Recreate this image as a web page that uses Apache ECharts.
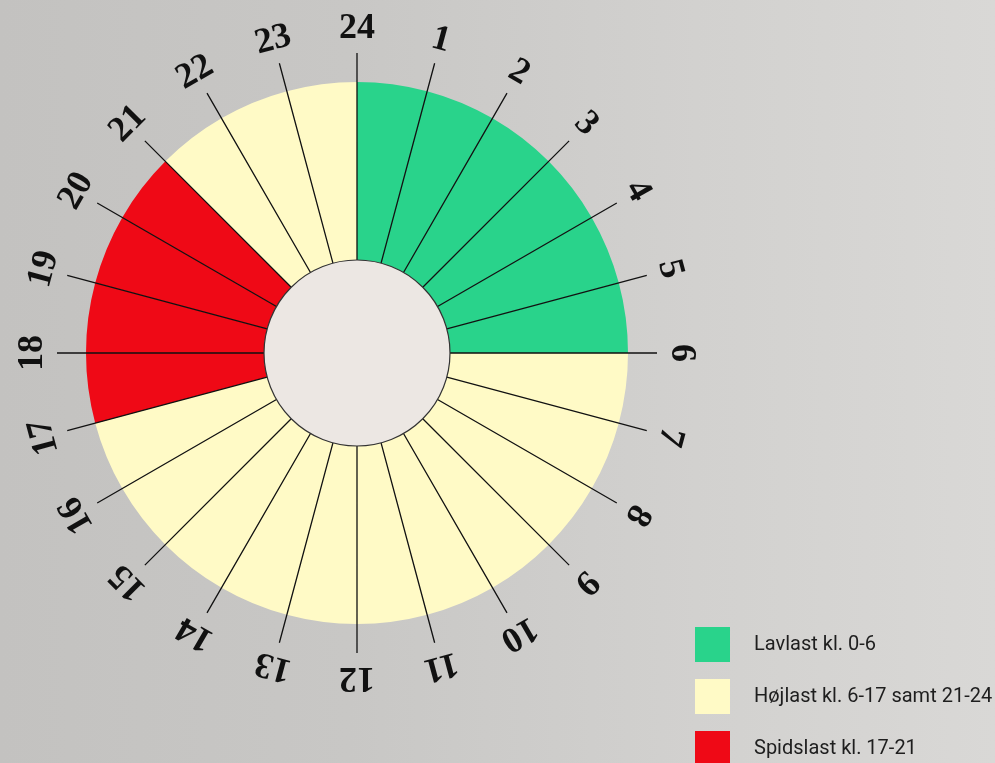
<!DOCTYPE html>
<html>
<head>
<meta charset="utf-8">
<script src="https://cdn.jsdelivr.net/npm/echarts@6/dist/echarts.min.js"></script>
<style>
  html, body { margin:0; padding:0; width:995px; height:763px; overflow:hidden; }
  body { background: linear-gradient(90deg, #c3c2c0 0%, #c8c7c5 35%, #d2d1cf 70%, #d9d8d6 100%); }
  #chart { width:995px; height:763px; }
</style>
</head>
<body>
<div id="chart"></div>
<script>
// Hour labels at slice boundaries, clockwise from top
const hourLabels = ['24','1','2','3','4','5','6','7','8','9','10','11','12','13','14','15','16','17','18','19','20','21','22','23'];
// One slice per hour (hour k -> k+1), equal size
const sliceValues = [1,1,1,1,1,1,1,1,1,1,1,1,1,1,1,1,1,1,1,1,1,1,1,1];
// Period of each hour slice: 0 = Lavlast, 1 = Højlast, 2 = Spidslast
const slicePeriod = [0,0,0,0,0,0, 1,1,1,1,1,1,1,1,1,1,1, 2,2,2,2, 1,1,1];
const periodNames = ['Lavlast kl. 0-6', 'Højlast kl. 6-17 samt 21-24', 'Spidslast kl. 17-21'];
const periodColors = ['#29d38b', '#fffac6', '#ef0916'];

const CX = 357, CY = 353;

const ringData = sliceValues.map((v, i) => ({
  value: v,
  name: periodNames[slicePeriod[i]],
  itemStyle: { color: periodColors[slicePeriod[i]] }
}));

const labelData = hourLabels.map((h, i) => ({
  value: sliceValues[i],
  name: h,
  label: { rotate: -15 * i }
}));

const chart = echarts.init(document.getElementById('chart'), null, { renderer: 'canvas' });
chart.setOption({
  backgroundColor: 'transparent',
  animation: false,
  legend: {
    orient: 'vertical',
    left: 695,
    top: 627,
    height: 160,
    padding: 0,
    itemWidth: 35,
    itemHeight: 35,
    itemGap: 17,
    icon: 'rect',
    selectedMode: false,
    data: periodNames,
    textStyle: { fontFamily: 'Roboto', fontSize: 20, color: '#1e1e1e', padding: [6, 0, 0, 19] }
  },
  polar: { center: [CX, CY], radius: [93, 300] },
  angleAxis: {
    type: 'value', min: 0, max: 24, interval: 1,
    startAngle: 90, clockwise: true, z: 10,
    axisLine: { show: false }, axisTick: { show: false }, axisLabel: { show: false },
    splitLine: { show: true, lineStyle: { color: '#111', width: 1.3 } }
  },
  radiusAxis: { show: false, min: 0, max: 1 },
  series: [
    {
      type: 'pie', name: 'ring', silent: true,
      center: [CX, CY], radius: [93, 271],
      startAngle: 90, clockwise: true,
      label: { show: false }, labelLine: { show: false },
      itemStyle: { borderWidth: 0 },
      data: ringData, z: 2
    },
    {
      type: 'pie', name: 'hours', silent: true, legendHoverLink: false,
      center: [CX, CY], radius: [304, 338],
      startAngle: 97.5, clockwise: true,
      avoidLabelOverlap: false,
      itemStyle: { color: 'rgba(0,0,0,0)' },
      label: { show: true, position: 'inside', formatter: '{b}',
               fontFamily: 'Liberation Serif', fontWeight: 'bold', fontSize: 36, color: '#111' },
      labelLine: { show: false },
      data: labelData, z: 3
    },
    {
      type: 'pie', name: 'center', silent: true,
      center: [CX, CY], radius: [0, 93],
      label: { show: false }, labelLine: { show: false },
      itemStyle: { color: '#ece7e3', borderColor: '#333', borderWidth: 1.2 },
      data: [{ value: 1, name: 'center' }], z: 20
    }
  ]
});
</script>
</body>
</html>
